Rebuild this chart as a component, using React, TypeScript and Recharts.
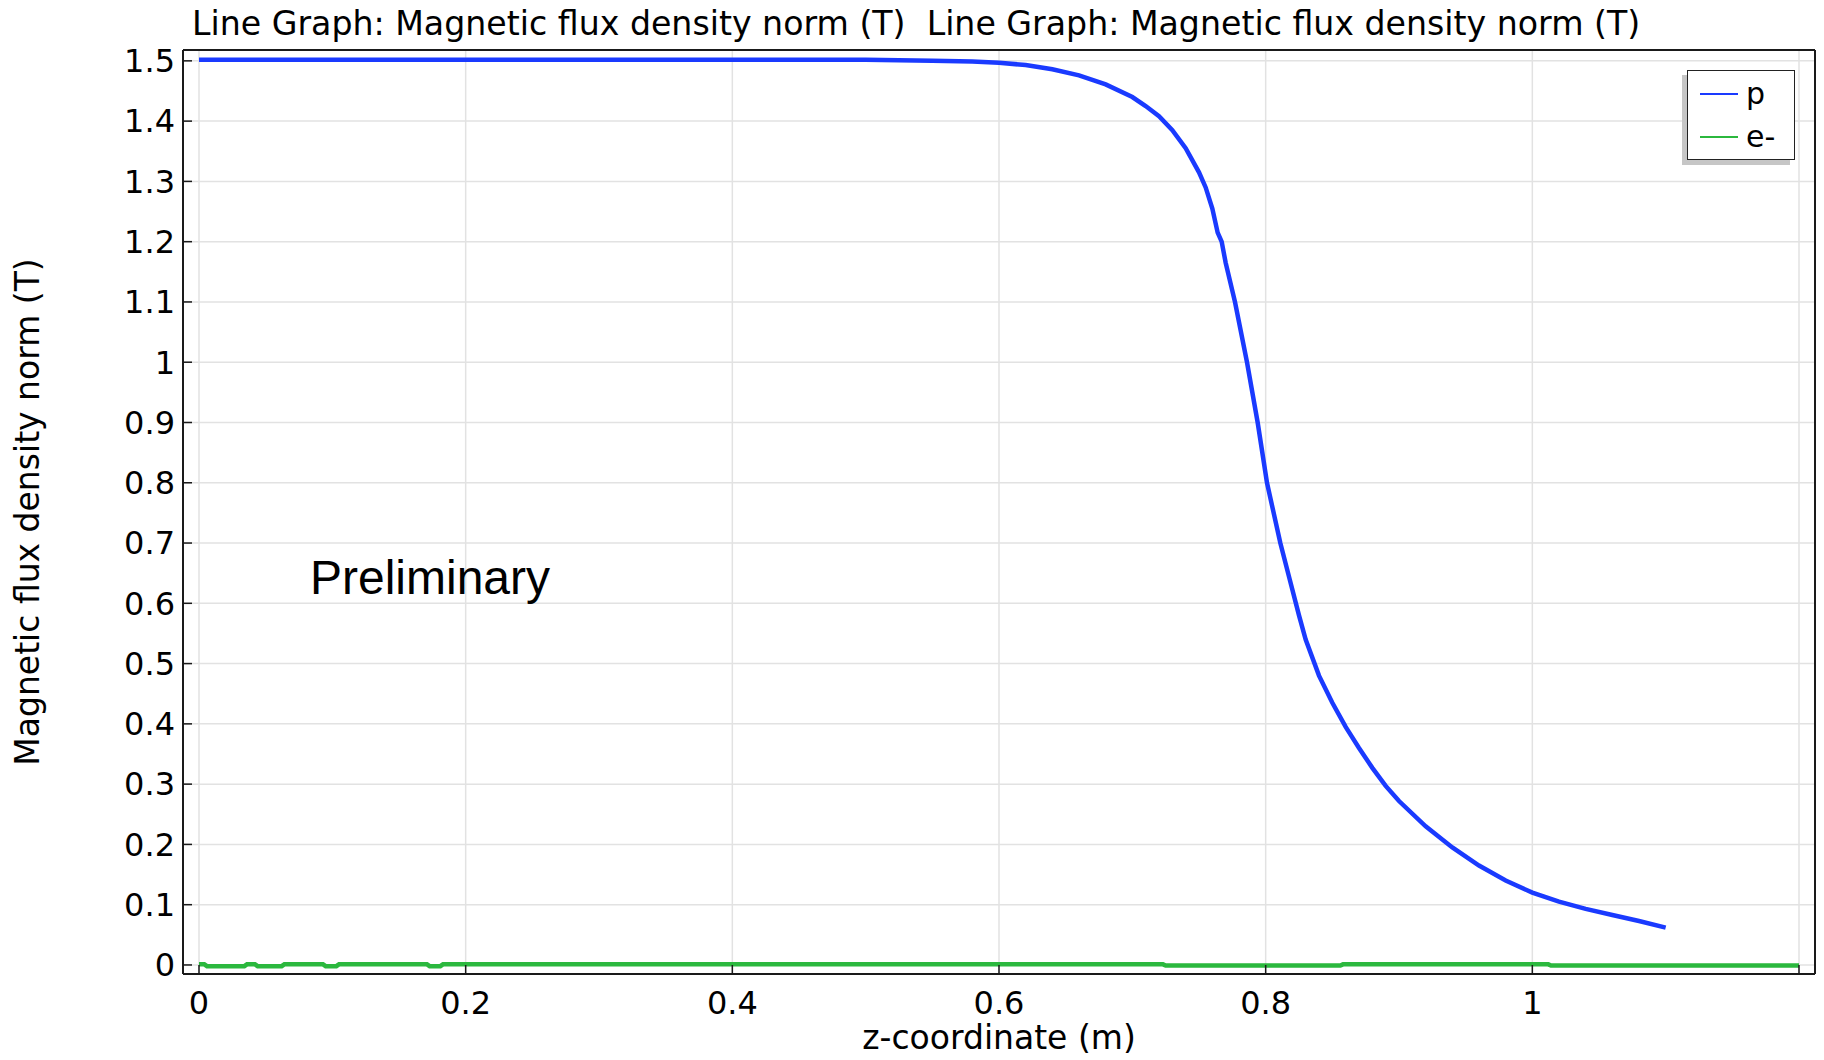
import { LineChart, Line, XAxis, YAxis, CartesianGrid, Legend } from 'recharts'

const FONT = '"DejaVu Sans", Verdana, sans-serif'

const titleText = 'Line Graph: Magnetic flux density norm (T)'
const xLabel = 'z-coordinate (m)'
const yLabel = 'Magnetic flux density norm (T)'
const note = 'Preliminary'

const seriesNames = ['p', 'e-']
const seriesColors = ['#1a3aff', '#2bb83e']

// p : falls off around z = 0.8 m
const pZ = [
	0, 0.1, 0.2, 0.3, 0.4, 0.5, 0.55, 0.58, 0.6, 0.62, 0.64, 0.66, 0.68, 0.7, 0.71, 0.72, 0.73,
	0.74, 0.75, 0.755, 0.76, 0.764, 0.767, 0.77, 0.777, 0.786, 0.794, 0.801, 0.811, 0.818, 0.825,
	0.83, 0.84, 0.85, 0.86, 0.87, 0.88, 0.89, 0.9, 0.92, 0.94, 0.96, 0.98, 1.0, 1.02, 1.04, 1.06,
	1.08, 1.1,
]
const pB = [
	1.502, 1.502, 1.502, 1.502, 1.502, 1.502, 1.5, 1.499, 1.497, 1.493, 1.486, 1.476, 1.461, 1.44,
	1.425, 1.408, 1.385, 1.355, 1.315, 1.29, 1.255, 1.215, 1.2, 1.165, 1.1, 1.0, 0.9, 0.8, 0.7, 0.64,
	0.58, 0.54, 0.48, 0.435, 0.395, 0.36, 0.327, 0.297, 0.272, 0.23, 0.195, 0.165, 0.14, 0.12, 0.105,
	0.093, 0.083, 0.073, 0.062,
]

// e- : stays at ~0 with tiny steps
const eZ = [
	0, 0.004, 0.006, 0.034, 0.036, 0.042, 0.044, 0.062, 0.064, 0.093, 0.095, 0.103, 0.105, 0.171,
	0.173, 0.181, 0.183, 0.723, 0.725, 0.856, 0.858, 1.012, 1.014, 1.2,
]
const eB = [
	0.001, 0.001, -0.002, -0.002, 0.001, 0.001, -0.002, -0.002, 0.001, 0.001, -0.002, -0.002, 0.001,
	0.001, -0.002, -0.002, 0.001, 0.001, -0.001, -0.001, 0.001, 0.001, -0.001, -0.001,
]

const xTicks = [0, 0.2, 0.4, 0.6, 0.8, 1, 1.2]
const xTickLabels = ['0', '0.2', '0.4', '0.6', '0.8', '1', '']
const yTicks = [0, 0.1, 0.2, 0.3, 0.4, 0.5, 0.6, 0.7, 0.8, 0.9, 1, 1.1, 1.2, 1.3, 1.4, 1.5]
const yTickLabels = ['0', '0.1', '0.2', '0.3', '0.4', '0.5', '0.6', '0.7', '0.8', '0.9', '1', '1.1', '1.2', '1.3', '1.4', '1.5']

const xDomain = [-0.012, 1.212]
const yDomain = [-0.015, 1.518]

const pData = pZ.map((z, i) => ({ z, b: pB[i] }))
const eData = eZ.map((z, i) => ({ z, b: eB[i] }))

const fmtX = (v: number) => xTickLabels[xTicks.indexOf(v)] ?? String(v)
const fmtY = (v: number) => yTickLabels[yTicks.indexOf(v)] ?? String(v)

const tickStyle = { fontSize: 32, fill: '#000', fontFamily: FONT }
const axisLine = { stroke: '#1a1a1a', strokeWidth: 2 }
const tickLine = { stroke: '#1a1a1a', strokeWidth: 1.5 }

const renderLegend = (props: any) => {
	const items = [...props.payload].sort(
		(a: any, b: any) => seriesNames.indexOf(a.value) - seriesNames.indexOf(b.value),
	)
	return (
		<div
			style={{
				border: '1.5px solid #222',
				background: '#fff',
				boxShadow: '-5px 5px 0 #c6c6c6',
				padding: '1px 10px 1px 12px',
				fontFamily: FONT,
				fontSize: 30,
				color: '#000',
				width: 84,
			}}>
			{items.map((entry: any) => (
				<div key={entry.value} style={{ display: 'flex', alignItems: 'center', height: 43 }}>
					<span style={{ width: 38, borderTop: `2px solid ${entry.color}`, marginRight: 8 }} />
					<span>{entry.value}</span>
				</div>
			))}
		</div>
	)
}

export default function App() {
	return (
		<div style={{ position: 'absolute', left: 0, top: 0, width: 1824, height: 1060, background: '#fff' }}>
			<div
				style={{
					position: 'absolute',
					left: 192,
					top: 4,
					fontFamily: FONT,
					fontSize: 33.2,
					whiteSpace: 'pre',
					color: '#000',
				}}>
				{titleText + '  ' + titleText}
			</div>
			<LineChart width={1824} height={1060} margin={{ top: 0, right: 0, bottom: 0, left: 0 }}>
				<CartesianGrid stroke="#e2e2e2" strokeWidth={1.5} />
				<XAxis
					dataKey="z"
					type="number"
					domain={xDomain}
					allowDataOverflow
					ticks={xTicks}
					interval={0}
					tickFormatter={fmtX}
					height={86}
					tickSize={-9}
					tickMargin={26}
					tick={tickStyle}
					axisLine={axisLine}
					tickLine={tickLine}
					label={{ value: xLabel, position: 'insideBottom', offset: 11, fontSize: 33, fill: '#000', fontFamily: FONT }}
				/>
				<XAxis
					xAxisId="top"
					orientation="top"
					type="number"
					domain={xDomain}
					allowDataOverflow
					ticks={xTicks}
					interval={0}
					height={50}
					tickSize={-9}
					tick={false}
					axisLine={axisLine}
					tickLine={tickLine}
				/>
				<YAxis
					type="number"
					domain={yDomain}
					allowDataOverflow
					ticks={yTicks}
					interval={0}
					tickFormatter={fmtY}
					width={183}
					tickSize={-9}
					tickMargin={17}
					tick={tickStyle}
					axisLine={axisLine}
					tickLine={tickLine}
					label={{
						value: yLabel,
						angle: -90,
						position: 'insideLeft',
						offset: 27,
						style: { textAnchor: 'middle' },
						fontSize: 33,
						fill: '#000',
						fontFamily: FONT,
					}}
				/>
				<YAxis
					yAxisId="right"
					orientation="right"
					type="number"
					domain={yDomain}
					allowDataOverflow
					ticks={yTicks}
					interval={0}
					width={9}
					tickSize={-9}
					tick={false}
					axisLine={axisLine}
					tickLine={tickLine}
				/>
				<Legend
					layout="vertical"
					align="center"
					verticalAlign="middle"
					content={renderLegend}
					wrapperStyle={{ left: 1687, top: 70, width: 108 }}
				/>
				<Line
					data={pData}
					dataKey="b"
					name={seriesNames[0]}
					stroke={seriesColors[0]}
					strokeWidth={4.5}
					dot={false}
					isAnimationActive={false}
				/>
				<Line
					data={eData}
					dataKey="b"
					name={seriesNames[1]}
					stroke={seriesColors[1]}
					strokeWidth={4.5}
					dot={false}
					isAnimationActive={false}
				/>
			</LineChart>
			<div
				style={{
					position: 'absolute',
					left: 310,
					top: 554,
					fontFamily: '"Liberation Sans", Arial, sans-serif',
					fontSize: 48,
					lineHeight: '48px',
					color: '#000',
				}}>
				{note}
			</div>
		</div>
	)
}
